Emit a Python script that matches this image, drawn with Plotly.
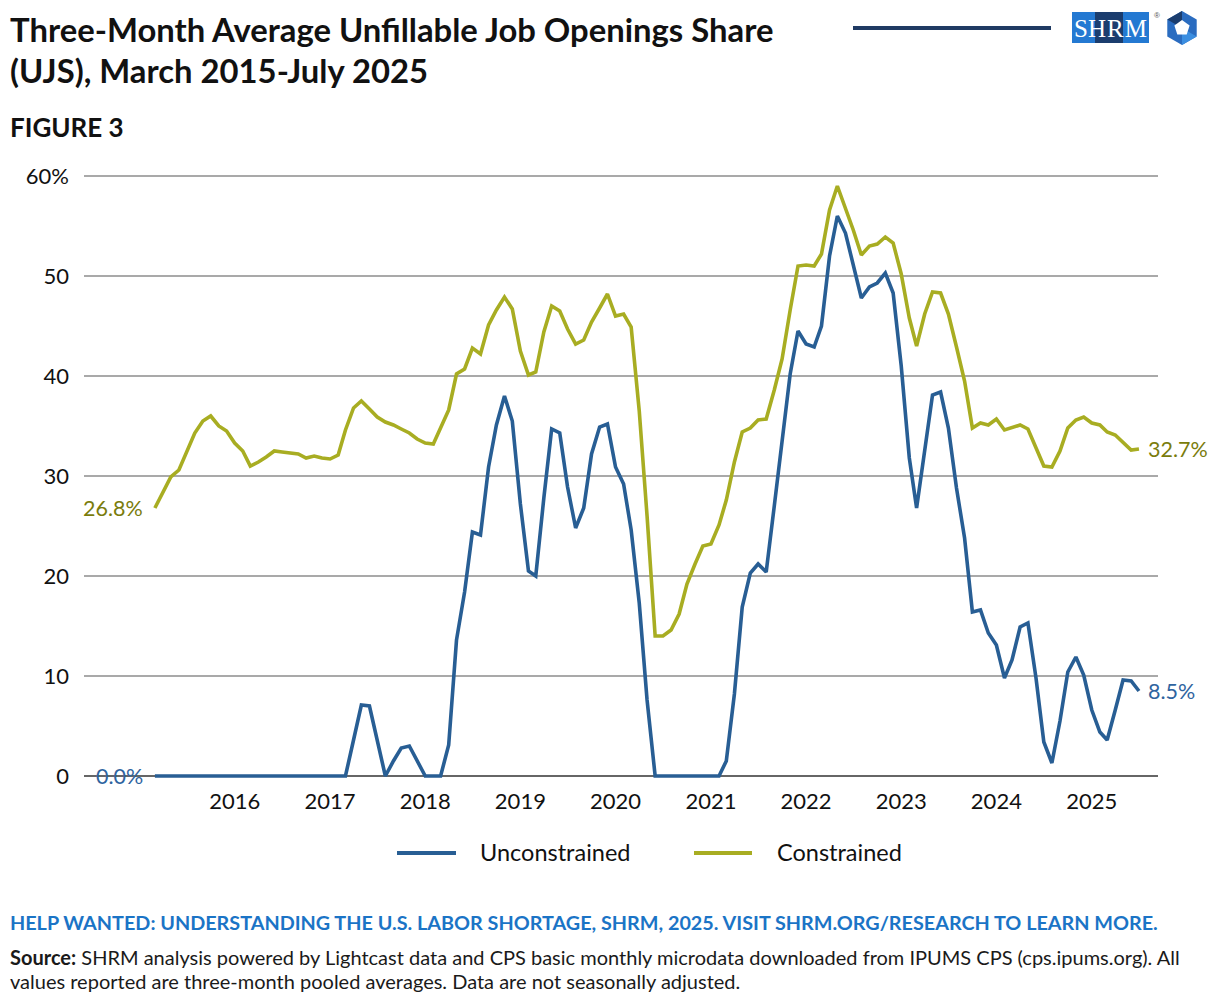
import math
import pandas as pd
import plotly.graph_objects as go

# Monthly points, March 2015 - July 2025 (three-month averages, %)
months = pd.date_range("2015-03-01", "2025-07-01", freq="MS")

unconstrained = [
    0, 0, 0, 0, 0, 0, 0, 0, 0, 0, 0, 0, 0, 0, 0, 0, 0, 0, 0, 0, 0, 0, 0, 0,   # 2015-03 .. 2017-02
    0, 3.6, 7.1, 7.0, 3.5, 0, 1.5, 2.8, 3.0, 1.5, 0, 0,                       # 2017-03 .. 2018-02
    0, 3.1, 13.6, 18.4, 24.4, 24.1, 30.9, 35.1, 38.0, 35.5, 27.2, 20.5,       # 2018-03 .. 2019-02
    20.0, 27.8, 34.7, 34.3, 28.9, 24.8, 26.8, 32.2, 34.9, 35.2, 30.9, 29.2,   # 2019-03 .. 2020-02
    24.6, 17.3, 7.6, 0, 0, 0, 0, 0, 0, 0, 0, 0,                               # 2020-03 .. 2021-02
    1.5, 8.2, 16.9, 20.3, 21.2, 20.4, 27.0, 33.6, 40.2, 44.5, 43.2, 42.9,     # 2021-03 .. 2022-02
    45.0, 52.0, 56.0, 54.3, 51.2, 47.8, 48.9, 49.3, 50.3, 48.3, 41.0, 31.8,   # 2022-03 .. 2023-02
    26.8, 32.4, 38.1, 38.4, 34.8, 28.8, 23.8, 16.4, 16.6, 14.3, 13.1, 9.8,    # 2023-03 .. 2024-02
    11.6, 14.9, 15.3, 9.8, 3.4, 1.3, 5.5, 10.4, 11.9, 10.1, 6.6, 4.4,         # 2024-03 .. 2025-02
    3.6, 6.6, 9.6, 9.5, 8.5,                                                  # 2025-03 .. 2025-07
]

constrained = [
    26.8, 28.4, 29.9, 30.6, 32.4, 34.3, 35.5, 36.0, 35.0, 34.5, 33.3, 32.5,   # 2015-03 .. 2016-02
    31.0, 31.4, 31.9, 32.5, 32.4, 32.3, 32.2, 31.8, 32.0, 31.8, 31.7, 32.1,   # 2016-03 .. 2017-02
    34.6, 36.8, 37.5, 36.7, 35.9, 35.4, 35.1, 34.7, 34.3, 33.7, 33.3, 33.2,   # 2017-03 .. 2018-02
    34.9, 36.6, 40.2, 40.7, 42.8, 42.2, 45.1, 46.6, 47.9, 46.7, 42.5, 40.1,   # 2018-03 .. 2019-02
    40.4, 44.4, 47.0, 46.5, 44.7, 43.2, 43.6, 45.4, 46.8, 48.2, 46.0, 46.2,   # 2019-03 .. 2020-02
    44.9, 36.5, 26.0, 14.0, 14.0, 14.6, 16.2, 19.2, 21.2, 23.0, 23.2, 25.1,   # 2020-03 .. 2021-02
    27.6, 31.4, 34.4, 34.8, 35.6, 35.7, 38.6, 41.7, 46.6, 51.0, 51.1, 51.0,   # 2021-03 .. 2022-02
    52.2, 56.6, 59.0, 56.8, 54.6, 52.1, 53.0, 53.2, 53.9, 53.3, 50.2, 45.8,   # 2022-03 .. 2023-02
    43.0, 46.2, 48.4, 48.3, 46.2, 42.9, 39.5, 34.8, 35.3, 35.1, 35.7, 34.6,   # 2023-03 .. 2024-02
    34.8, 35.1, 34.7, 32.9, 31.0, 30.9, 32.5, 34.8, 35.6, 35.9, 35.3, 35.1,   # 2024-03 .. 2025-02
    34.4, 34.1, 33.3, 32.6, 32.7,                                             # 2025-03 .. 2025-07
]

series_names = ["Unconstrained", "Constrained"]
y_tick_vals = [0, 10, 20, 30, 40, 50, 60]
y_tick_text = ["0", "10", "20", "30", "40", "50", "60%"]
x_tick_years = list(range(2016, 2026))

BLUE = "#285e94"
OLIVE = "#a8ad22"
BLUE_TXT = "#2f64a0"
OLIVE_TXT = "#7a7c0c"
FONT = "Lato"

# page offset (body margin) compensation
OFF = 8
W, H = 1220 - 2 * OFF, 1006 - 2 * OFF
L, R, T, B = 84 - OFF, W - (1158 - OFF), 170 - OFF, H - (780 - OFF)

fig = go.Figure()
fig.add_trace(go.Scatter(x=months, y=unconstrained, mode="lines", name=series_names[0],
                         line=dict(color=BLUE, width=3.6), cliponaxis=False))
fig.add_trace(go.Scatter(x=months, y=constrained, mode="lines", name=series_names[1],
                         line=dict(color=OLIVE, width=3.6), cliponaxis=False))

fig.update_layout(
    width=W, height=H,
    margin=dict(l=L, r=R, t=T, b=B),
    paper_bgcolor="white", plot_bgcolor="white",
    font=dict(family=FONT, size=22, color="#111111"),
    showlegend=False,
    xaxis=dict(
        type="date",
        range=["2014-06-02", "2025-09-12"],
        tickvals=[pd.Timestamp(f"{y}-01-01") for y in x_tick_years],
        ticktext=[str(y) for y in x_tick_years],
        showgrid=False, showline=False, zeroline=False, ticks="",
        tickfont=dict(size=22, color="#111111"),
        ticklabelstandoff=6,
    ),
    yaxis=dict(
        range=[-0.4, 60.6],
        tickvals=y_tick_vals, ticktext=y_tick_text,
        showgrid=True, gridcolor="#a9a9a9", gridwidth=1.5,
        zeroline=True, zerolinecolor="#666666", zerolinewidth=2,
        showline=False, ticks="",
        tickfont=dict(size=22, color="#111111"),
        ticklabelstandoff=14,
    ),
)


def fx(x):
    return (x - OFF - L) / (W - L - R)


def fy(y):
    return (H - B - (y - OFF)) / (H - T - B)


def px(x, y, text, size, color="#111111", xanchor="left", family=FONT):
    return dict(text=text, xref="paper", yref="paper", x=fx(x), y=fy(y),
                xanchor=xanchor, yanchor="middle", showarrow=False,
                font=dict(size=size, color=color, family=family))


ann = []
ann.append(px(8, 30, "<b>Three-Month Average Unfillable Job Openings Share</b>", 32.8))
ann.append(px(8, 70, "<b>(UJS), March 2015-July 2025</b>", 32.8))
ann.append(px(8, 127, "<b>FIGURE 3</b>", 26))
ann.append(px(8, 922, "<b>HELP WANTED: UNDERSTANDING THE U.S. LABOR SHORTAGE, SHRM, 2025. VISIT SHRM.ORG/RESEARCH TO LEARN MORE.</b>",
              19.8, color="#1b74c6"))
ann.append(px(8, 957, "<b>Source:</b> SHRM analysis powered by Lightcast data and CPS basic monthly microdata downloaded from IPUMS CPS (cps.ipums.org). All",
              20.0, color="#1a1a1a"))
ann.append(px(8, 981, "values reported are three-month pooled averages. Data are not seasonally adjusted.",
              20.0, color="#1a1a1a"))

# Legend (drawn manually to match spacing)
legend_items = [(397, 456, 480, series_names[0], BLUE), (694, 752, 777, series_names[1], OLIVE)]
shapes = []
for x0, x1, xt, name, col in legend_items:
    shapes.append(dict(type="line", xref="paper", yref="paper", x0=fx(x0), x1=fx(x1), y0=fy(853), y1=fy(853),
                       line=dict(color=col, width=4)))
    ann.append(px(xt - 2, 852, name, 23.5))

# Endpoint value labels
ann.append(dict(x=months[0], y=constrained[0], text=f"{constrained[0]:.1f}%", xanchor="right", yanchor="middle",
                xshift=-10, showarrow=False, font=dict(size=21.5, color=OLIVE_TXT)))
ann.append(dict(x=months[0], y=unconstrained[0], text=f"{unconstrained[0]:.1f}%", xanchor="right", yanchor="middle",
                xshift=-10, showarrow=False, font=dict(size=21.5, color=BLUE_TXT)))
ann.append(dict(x=months[-1], y=constrained[-1], text=f"{constrained[-1]:.1f}%", xanchor="left", yanchor="middle",
                xshift=7, showarrow=False, font=dict(size=21.5, color=OLIVE_TXT)))
ann.append(dict(x=months[-1], y=unconstrained[-1], text=f"{unconstrained[-1]:.1f}%", xanchor="left", yanchor="middle",
                xshift=7, showarrow=False, font=dict(size=21.5, color=BLUE_TXT)))

# Logo text
ann.append(px(1110.5, 28.5, "S<span style='letter-spacing:1px'>HRM</span>", 25, color="white", xanchor="center",
              family="Liberation Serif"))
ann.append(px(1152, 15, "®", 8, color="#555555", family="Liberation Sans"))

fig.update_layout(annotations=ann)


def pshape(x0, y0, x1, y1, **kw):
    d = dict(xref="paper", yref="paper", x0=fx(x0), x1=fx(x1), y0=fy(y0), y1=fy(y1))
    d.update(kw)
    return d


def ppath(points):
    s = ""
    for i, (x, y) in enumerate(points):
        s += ("M" if i == 0 else "L") + f"{fx(x):.5f},{fy(y):.5f} "
    return s + "Z"


# header rule
shapes.append(pshape(853, 28, 1051, 28, type="line", line=dict(color="#1f3a63", width=4)))
# SHRM logo box
shapes.append(pshape(1072, 12, 1149, 43, type="rect", fillcolor="#2479d2", line=dict(width=0), layer="below"))
shapes.append(pshape(1095, 12, 1123, 43, type="rect", fillcolor="#1b3d6e", line=dict(width=0), layer="below"))
# hexagon icon
cx, cy, r = 1182, 28, 17
hexpts = [(cx + r * math.cos(math.radians(90 + 60 * k)), cy - r * math.sin(math.radians(90 + 60 * k))) for k in range(6)]
shapes.append(dict(type="path", path=ppath(hexpts), xref="paper", yref="paper",
                   fillcolor="#2a6cc0", line=dict(width=0)))
shapes.append(dict(type="path", path=ppath([hexpts[0], hexpts[1], (cx, cy)]), xref="paper", yref="paper",
                   fillcolor="#1b3d6e", line=dict(width=0)))
shapes.append(dict(type="path", path=ppath([hexpts[3], hexpts[4], (cx, cy)]), xref="paper", yref="paper",
                   fillcolor="#3b8ee0", line=dict(width=0)))
pent = [(cx + 8 * math.cos(math.radians(18 + 72 * k)), cy - 8 * math.sin(math.radians(18 + 72 * k))) for k in range(5)]
shapes.append(dict(type="path", path=ppath(pent), xref="paper", yref="paper",
                   fillcolor="white", line=dict(width=0)))
fig.update_layout(shapes=shapes)

fig.write_html("out.html")
